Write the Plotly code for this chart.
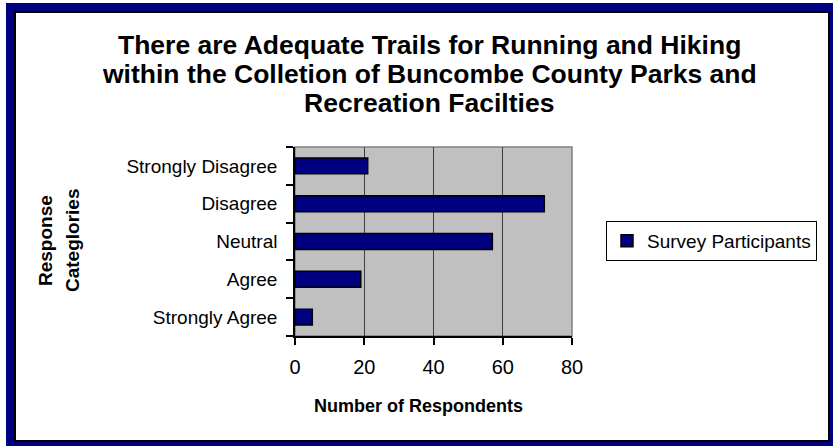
import plotly.graph_objects as go

categories = ["Strongly Agree", "Agree", "Neutral", "Disagree", "Strongly Disagree"]
respondents = [5, 19, 57, 72, 21]
series_name = "Survey Participants"
x_ticks = [0, 20, 40, 60, 80]
title_lines = [
    "There are Adequate Trails for Running and Hiking",
    "within the Colletion of Buncombe County Parks and",
    "Recreation Facilties",
]
x_title = "Number of Respondents"
y_title_lines = ["Response", "Categlories"]

W, H = 833, 446
L, R, T, B = 295, 572, 147, 336
FONT = "Liberation Sans, Arial, sans-serif"


def px(x):
    return (x - L) / (R - L)


def py(y):
    return (B - y) / (B - T)


fig = go.Figure()
fig.add_trace(go.Bar(
    y=categories, x=respondents, orientation="h", name=series_name,
    marker=dict(color="#000080", line=dict(color="#000000", width=1.5)),
    showlegend=True,
))

shapes = []
# plot area border (gray)
shapes.append(dict(type="rect", xref="paper", yref="paper", x0=0, x1=1, y0=0, y1=1,
                   line=dict(color="#808080", width=1.5), layer="below"))
# outer navy frame bands
navy = "#000080"
for (x0, y0, x1, y1) in [(6, 3, 14, 446), (6, 3, 833, 11), (830, 3, 833, 446), (6, 442, 833, 446)]:
    shapes.append(dict(type="rect", xref="paper", yref="paper",
                       x0=px(x0), x1=px(x1), y0=py(y1), y1=py(y0),
                       fillcolor=navy, line=dict(width=0), layer="below"))
# inner black shadow outline
shapes.append(dict(type="rect", xref="paper", yref="paper",
                   x0=px(15), x1=px(829), y0=py(441), y1=py(12),
                   line=dict(color="#000000", width=2), fillcolor="rgba(0,0,0,0)", layer="below"))

annotations = []
for txt, yc in zip(title_lines, [45, 74, 103]):
    annotations.append(dict(text="<b>%s</b>" % txt, xref="paper", yref="paper",
                            x=px(429), y=py(yc), xanchor="center", yanchor="middle",
                            showarrow=False, font=dict(family=FONT, size=26.5, color="#000000")))
annotations.append(dict(text="<b>%s</b>" % x_title, xref="paper", yref="paper",
                        x=px(418), y=py(406), xanchor="center", yanchor="middle",
                        showarrow=False, font=dict(family=FONT, size=18, color="#000000")))
for txt, xc in zip(y_title_lines, [45, 72]):
    annotations.append(dict(text="<b>%s</b>" % txt, xref="paper", yref="paper",
                            x=px(xc), y=py(241), xanchor="center", yanchor="middle",
                            textangle=-90, showarrow=False,
                            font=dict(family=FONT, size=19, color="#000000")))

fig.update_layout(
    width=W, height=H,
    margin=dict(l=L, r=W - R, t=T, b=H - B, pad=0),
    paper_bgcolor="#FFFFFF", plot_bgcolor="#C0C0C0",
    font=dict(family=FONT, color="#000000"),
    bargap=0.58,
    shapes=shapes, annotations=annotations,
    legend=dict(x=px(606), y=py(241), xanchor="left", yanchor="middle",
                bgcolor="#FFFFFF", bordercolor="#000000", borderwidth=1,
                font=dict(family=FONT, size=19, color="#000000")),
    xaxis=dict(range=[0, 80], tickvals=x_ticks, showgrid=True, gridcolor="#404040", gridwidth=1,
               showline=True, linecolor="#000000", linewidth=1.5, zeroline=False,
               ticks="outside", ticklen=7, tickcolor="#000000", tickwidth=1.5,
               tickfont=dict(family=FONT, size=20, color="#000000"), ticklabelstandoff=5),
    yaxis=dict(type="category", categoryorder="array", categoryarray=categories,
               showgrid=False, showline=True, linecolor="#000000", linewidth=1.5,
               ticks="outside", ticklen=7, tickcolor="#000000", tickwidth=1.5, tickson="boundaries",
               tickfont=dict(family=FONT, size=19, color="#000000"), ticklabelstandoff=12),
)

fig.write_html(
    "out.html",
    config={"displayModeBar": False},
    post_script="document.body.style.margin='0';document.body.style.padding='0';"
                "document.body.style.overflow='hidden';",
)
